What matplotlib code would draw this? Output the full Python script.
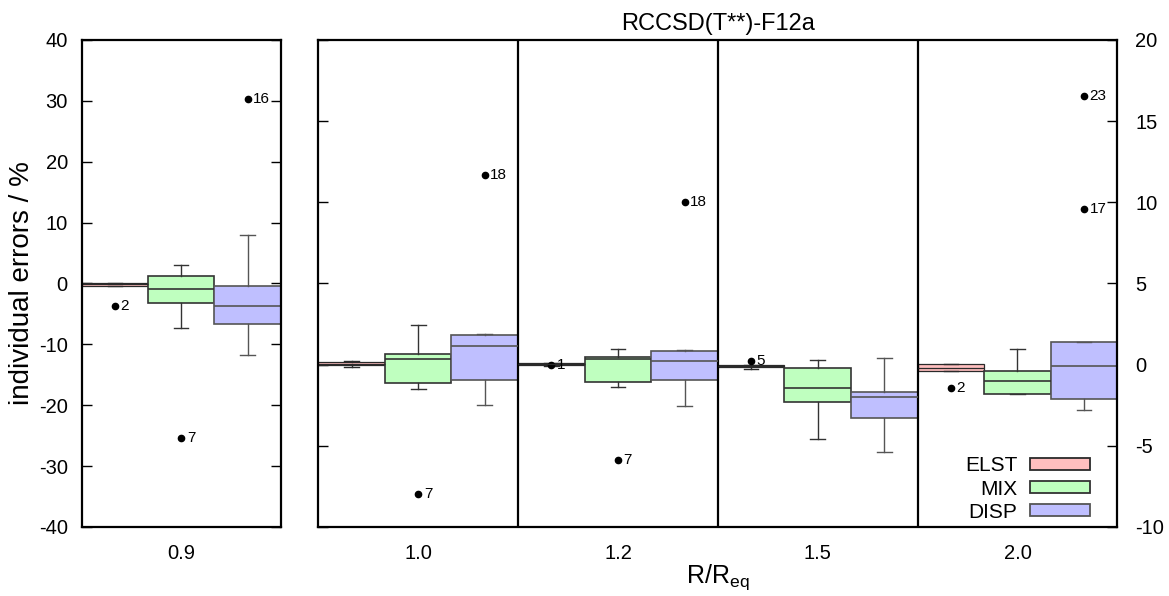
import matplotlib
matplotlib.use("Agg")
import matplotlib.pyplot as plt
from matplotlib.patches import Patch

plt.rcParams['font.family'] = ['Liberation Sans', 'DejaVu Sans']
plt.rcParams['mathtext.fontset'] = 'custom'
plt.rcParams['mathtext.rm'] = 'Liberation Sans'
plt.rcParams['mathtext.it'] = 'Liberation Sans'
plt.rcParams['axes.unicode_minus'] = False

# ---- data -----------------------------------------------------------------
r_values = ['0.9', '1.0', '1.2', '1.5', '2.0']
series = ['ELST', 'MIX', 'DISP']

elst_med = [-0.15, 0.06, 0.03, -0.09, -0.19]
elst_q1 = [-0.35, -0.04, -0.04, -0.12, -0.39]
elst_q3 = [0.05, 0.16, 0.10, -0.05, 0.02]
elst_wlo = [-0.45, -0.17, -0.08, -0.25, -0.40]
elst_whi = [0.10, 0.20, 0.12, -0.02, 0.02]
elst_out_val = [[-3.73], [], [0.0], [0.22], [-1.42]]
elst_out_lab = [['2'], [], ['1'], ['5'], ['2']]

mix_med = [-0.88, 0.37, 0.37, -1.44, -0.99]
mix_q1 = [-3.18, -1.15, -1.09, -2.32, -1.79]
mix_q3 = [1.15, 0.68, 0.47, -0.18, -0.39]
mix_wlo = [-7.29, -1.52, -1.36, -4.58, -1.83]
mix_whi = [2.96, 2.46, 0.97, 0.31, 0.99]
mix_out_val = [[-25.4], [-7.95], [-5.85], [], []]
mix_out_lab = [['7'], ['7'], ['7'], [], []]

disp_med = [-3.62, 1.13, 0.23, -1.99, -0.10]
disp_q1 = [-6.58, -0.94, -0.97, -3.29, -2.09]
disp_q3 = [-0.38, 1.85, 0.84, -1.66, 1.42]
disp_wlo = [-11.67, -2.50, -2.55, -5.36, -2.77]
disp_whi = [7.89, 1.89, 0.92, 0.43, 1.42]
disp_out_val = [[30.25], [11.66], [10.02], [], [16.57, 9.57]]
disp_out_lab = [['16'], ['18'], ['18'], [], ['23', '17']]

left_yticks = [-40, -30, -20, -10, 0, 10, 20, 30, 40]
right_yticks = [-10, -5, 0, 5, 10, 15, 20]

# ---- styling --------------------------------------------------------------
fills = {'ELST': '#ffbfbf', 'MIX': '#bfffbf', 'DISP': '#bfbfff'}
edges = {'ELST': '#2a2a2a', 'MIX': '#333333', 'DISP': '#555555'}

table = {
    'ELST': (elst_med, elst_q1, elst_q3, elst_wlo, elst_whi, elst_out_val, elst_out_lab),
    'MIX': (mix_med, mix_q1, mix_q3, mix_wlo, mix_whi, mix_out_val, mix_out_lab),
    'DISP': (disp_med, disp_q1, disp_q3, disp_wlo, disp_whi, disp_out_val, disp_out_lab),
}

fig = plt.figure(figsize=(11.69, 5.96), dpi=100)
ax_l = fig.add_axes([0.0699, 0.1158, 0.1702, 0.8171])
ax_r = fig.add_axes([0.2723, 0.1158, 0.6835, 0.8171])

nser = len(series)


def draw_group(ax, ci, slot):
    """Draw the three boxes of category index ci in group slot `slot`."""
    for si, name in enumerate(series):
        med, q1, q3, wlo, whi, oval, olab = table[name]
        stats = [dict(med=med[ci], q1=q1[ci], q3=q3[ci],
                      whislo=wlo[ci], whishi=whi[ci], fliers=oval[ci])]
        pos = slot * nser + si + 0.5
        ec = edges[name]
        lw = 0.9 if name == 'ELST' else 1.2
        ax.bxp(stats, positions=[pos], widths=1.0, capwidths=0.22,
               patch_artist=True, manage_ticks=False,
               boxprops=dict(facecolor=fills[name], edgecolor=ec, linewidth=lw),
               medianprops=dict(color=ec, linewidth=lw),
               whiskerprops=dict(color=ec, linewidth=1.0),
               capprops=dict(color=ec, linewidth=1.0),
               flierprops=dict(marker='o', markerfacecolor='black',
                               markeredgecolor='black', markersize=4.5))
        for v, lab in zip(oval[ci], olab[ci]):
            ax.annotate(lab, (pos, v), xytext=(4, 0), textcoords='offset points',
                        ha='left', va='center', fontsize=11)


# left panel: first category
draw_group(ax_l, 0, 0)
ax_l.set_xlim(0, nser)
ax_l.set_ylim(left_yticks[0], left_yticks[-1])
ax_l.set_yticks(left_yticks)
ax_l.set_xticks([nser / 2])
ax_l.set_xticklabels([r_values[0]])
ax_l.set_ylabel('individual errors / %', fontsize=20, labelpad=3)
ax_l.tick_params(axis='y', direction='in', length=7, width=1, left=True,
                 right=True, labelsize=14.5, pad=10)
ax_l.tick_params(axis='x', length=0, labelsize=14.5, pad=12)

# right panel: remaining categories
right_cats = r_values[1:]
for k in range(len(right_cats)):
    draw_group(ax_r, k + 1, k)
for k in range(1, len(right_cats)):
    ax_r.axvline(k * nser, color='black', linewidth=1.6)
ax_r.set_xlim(0, nser * len(right_cats))
ax_r.set_ylim(right_yticks[0], right_yticks[-1])
ax_r.set_yticks(right_yticks)
ax_r.set_xticks([k * nser + nser / 2 for k in range(len(right_cats))])
ax_r.set_xticklabels(right_cats)
ax_r.yaxis.tick_right()
ax_r.tick_params(axis='y', direction='in', length=7, width=1, left=True,
                 right=True, labelleft=False, labelright=True,
                 labelsize=14.5, pad=13)
ax_r.tick_params(axis='x', length=0, labelsize=14.5, pad=12)
ax_r.set_xlabel(r'$\mathregular{R/R_{eq}}$', fontsize=18, labelpad=0)
ax_r.set_title('RCCSD(T**)-F12a', fontsize=17, pad=7)

for ax in (ax_l, ax_r):
    for sp in ax.spines.values():
        sp.set_linewidth(1.6)

handles = [Patch(facecolor=fills[n], edgecolor=edges[n], linewidth=1.3, label=n)
           for n in series]
ax_r.legend(handles=handles, loc='lower right', markerfirst=False, frameon=False,
            fontsize=15, handlelength=2.9, handleheight=0.5, handletextpad=0.6,
            labelspacing=0.2, borderaxespad=0.2, bbox_to_anchor=(0.982, -0.015))

fig.savefig('out.png', dpi=100)
